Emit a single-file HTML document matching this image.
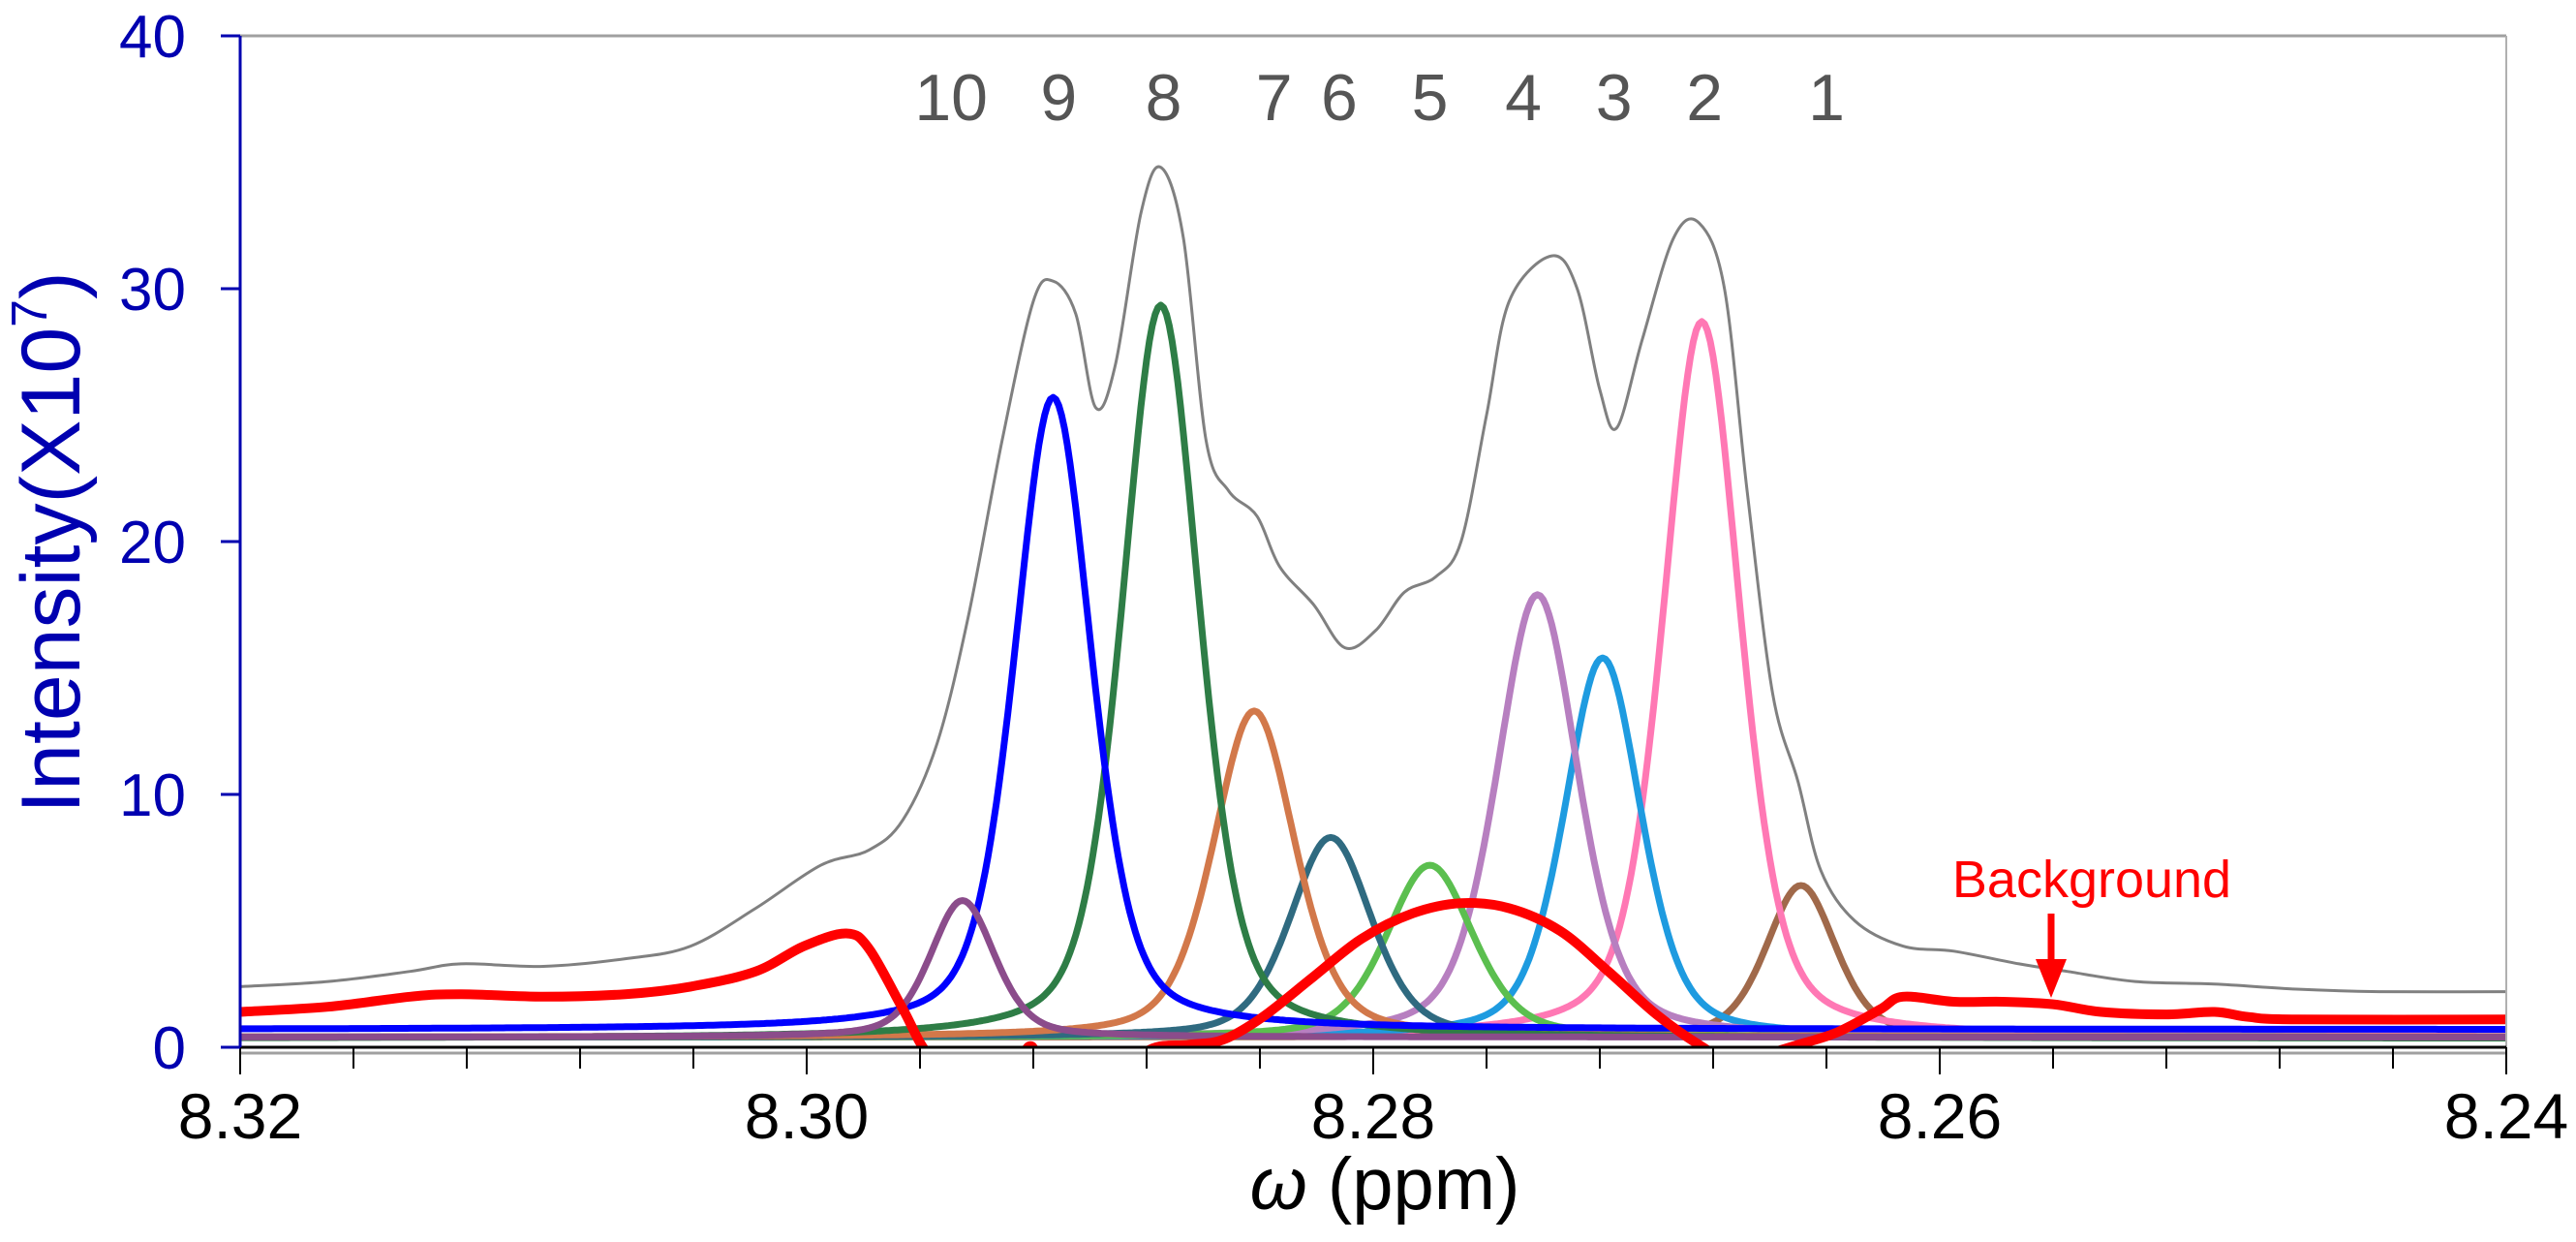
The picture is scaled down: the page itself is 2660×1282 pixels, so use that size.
<!DOCTYPE html>
<html><head><meta charset="utf-8"><style>
html,body{margin:0;padding:0;background:#fff;}
svg{display:block;font-family:"Liberation Sans",Arial,sans-serif;}
</style></head><body>
<svg id="chart" width="2660" height="1282" viewBox="0 0 2660 1282" xmlns="http://www.w3.org/2000/svg">
<defs><clipPath id="plotclip"><rect x="248" y="30" width="2340" height="1051"/></clipPath></defs>
<g id="grid"></g>
<g id="series" clip-path="url(#plotclip)"></g>
<g id="axes"></g>
</svg>
<script>
const peakLabels = ['1','2','3','4','5','6','7','8','9','10'];
const peakCenters = [8.2649, 8.2684, 8.2719, 8.2742, 8.2780, 8.2815, 8.2842, 8.2875, 8.2913, 8.2945];
const peakHeights = [6.0, 28.3, 15.0, 17.5, 6.8, 7.9, 12.9, 29.0, 25.0, 5.4];
const peakWidths = [0.00145, 0.0016, 0.0016, 0.0017, 0.0018, 0.0017, 0.0017, 0.0016, 0.0016, 0.00135];
const peakOffsets = [0.4, 0.4, 0.4, 0.4, 0.4, 0.4, 0.4, 0.35, 0.7, 0.4];
const peakColors = ['#a0694a','#ff78b4','#1e9be0','#b77fc0','#5bbf4f','#2f6a80','#d2784a','#2e7d46','#0000ff','#8b4c8b'];
const labelPpm = [8.2640, 8.2683, 8.2715, 8.2747, 8.2780, 8.2812, 8.2835, 8.2874, 8.2911, 8.2949];

const totalPpm = [8.3200,8.3169,8.3140,8.3122,8.3093,8.3064,8.3041,8.3018,8.2995,8.2978,8.2966,8.2954,8.2943,8.2931,8.2920,8.2913,8.2905,8.2898,8.2891,8.2882,8.2875,8.2867,8.2859,8.2851,8.2841,8.2833,8.2821,8.2810,8.2799,8.2789,8.2778,8.2769,8.2760,8.2752,8.2737,8.2728,8.2720,8.2714,8.2705,8.2694,8.2685,8.2676,8.2668,8.2659,8.2650,8.2642,8.2630,8.2613,8.2595,8.2572,8.2555,8.2531,8.2503,8.2474,8.2445,8.2400];
const totalVals = [2.4,2.6,3.0,3.3,3.2,3.5,4.0,5.5,7.2,7.8,9,12,17,24,29.5,30.3,29,25.3,27,33,34.8,32,24,22,21,19,17.5,15.8,16.5,18,18.6,20,25,29.5,31.3,30,26,24.5,28,32,32.6,30,22,14,10.5,7,5,4.0,3.8,3.3,3.0,2.6,2.5,2.3,2.2,2.2];

const bgPpm = [8.3200,8.3169,8.3140,8.3122,8.3093,8.3064,8.3041,8.3018,8.3001,8.2986,8.2978,8.2966,8.2957,8.2943,8.2925,8.2921,8.2917,8.2896,8.2879,8.2865,8.2853,8.2839,8.2821,8.2804,8.2786,8.2769,8.2752,8.2734,8.2717,8.2700,8.2685,8.2673,8.2662,8.2650,8.2636,8.2621,8.2613,8.2595,8.2578,8.2560,8.2543,8.2520,8.2503,8.2491,8.2474,8.2400];
const bgVals = [1.4,1.6,2.0,2.1,2.0,2.1,2.4,3.0,4.0,4.5,3.9,1.5,-0.3,-1.5,-0.3,0.05,-0.3,-1.5,-0.1,0.1,0.3,1.2,2.8,4.3,5.3,5.7,5.5,4.6,3.0,1.3,0.1,-0.6,-0.3,0.1,0.6,1.5,2.0,1.8,1.8,1.7,1.4,1.3,1.4,1.2,1.1,1.1];

const xTicks = [8.32, 8.30, 8.28, 8.26, 8.24];
const xTickLabels = ['8.32','8.30','8.28','8.26','8.24'];
const yTicks = [0, 10, 20, 30, 40];

const X0=248, X1=2588, Y0=1081, Y1=37;
function xs(p){ return X0 + (8.32 - p) / 0.08 * (X1 - X0); }
function ys(v){ return Y0 - v / 40 * (Y0 - Y1); }
const NS='http://www.w3.org/2000/svg';
function mk(tag, attrs, parent){ const e=document.createElementNS(NS,tag); for(const k in attrs) e.setAttribute(k,attrs[k]); parent.appendChild(e); return e; }
function smoothPath(pts){
  let d='M'+pts[0][0].toFixed(1)+','+pts[0][1].toFixed(1);
  for(let i=0;i<pts.length-1;i++){
    const p0=pts[Math.max(0,i-1)],p1=pts[i],p2=pts[i+1],p3=pts[Math.min(pts.length-1,i+2)];
    const c1=[p1[0]+(p2[0]-p0[0])/6,p1[1]+(p2[1]-p0[1])/6];
    const c2=[p2[0]-(p3[0]-p1[0])/6,p2[1]-(p3[1]-p1[1])/6];
    d+='C'+c1[0].toFixed(1)+','+c1[1].toFixed(1)+' '+c2[0].toFixed(1)+','+c2[1].toFixed(1)+' '+p2[0].toFixed(1)+','+p2[1].toFixed(1);
  }
  return d;
}
const series=document.getElementById('series');
const axes=document.getElementById('axes');

let e;
e=mk('line',{x1:X0,y1:Y1,x2:X1,y2:Y1,stroke:'#a0a0a0','stroke-width':3},axes);
 
e=mk('line',{x1:X1,y1:Y1,x2:X1,y2:Y0,stroke:'#b0b0b0','stroke-width':2},axes);
 

peakCenters.forEach((c,i)=>{
  const pts=[];
  for(let p=8.32;p>=8.24-1e-9;p-=0.0001){
    const t=(p-c)/peakWidths[i];
    const v=peakOffsets[i]+peakHeights[i]*(0.6*Math.exp(-Math.LN2*t*t)+0.4/(1+t*t));
    pts.push([xs(p),ys(v)]);
  }
  const d='M'+pts.map(q=>q[0].toFixed(1)+','+q[1].toFixed(1)).join('L');
  const el=mk('path',{d:d,fill:'none',stroke:peakColors[i],'stroke-width':7,'stroke-linejoin':'round'},series);
  
  
});
e=mk('path',{d:smoothPath(bgPpm.map((p,i)=>[xs(p),ys(bgVals[i])])),fill:'none',stroke:'#ff0000','stroke-width':10,'stroke-linejoin':'round'},series);
 
e=mk('path',{d:smoothPath(totalPpm.map((p,i)=>[xs(p),ys(totalVals[i])])),fill:'none',stroke:'#808080','stroke-width':3},series);
 

e=mk('line',{x1:X0,y1:Y0,x2:X1,y2:Y0,stroke:'#000','stroke-width':3},axes);
 
e=mk('line',{x1:X0,y1:Y0+6,x2:X1,y2:Y0+6,stroke:'#a0a0a0','stroke-width':3},axes);
 
for(let k=0;k<=20;k++){
  const p=8.32-k*0.004;
  e=mk('line',{x1:xs(p),y1:Y0,x2:xs(p),y2:Y0+(k%5===0?28:22),stroke:'#000','stroke-width':2},axes);
   
}
xTicks.forEach((p,i)=>{
  const t=mk('text',{x:xs(p),y:1175,'text-anchor':'middle','font-size':66,fill:'#000'},axes);
  t.textContent=xTickLabels[i];
   
});
e=mk('text',{x:1430,y:1248,'text-anchor':'middle','font-size':76,fill:'#000'},axes);
e.innerHTML='<tspan font-style="italic">ω</tspan> (ppm)';
 

e=mk('line',{x1:X0,y1:Y1,x2:X0,y2:Y0,stroke:'#0000b0','stroke-width':3},axes);
 
yTicks.forEach(v=>{
  e=mk('line',{x1:X0-20,y1:ys(v),x2:X0,y2:ys(v),stroke:'#0000b0','stroke-width':3},axes);
   
  const t=mk('text',{x:192,y:ys(v)+22,'text-anchor':'end','font-size':62,fill:'#0000b0'},axes);
  t.textContent=String(v);
   
});
e=mk('text',{x:0,y:0,transform:'translate(82,560) rotate(-90)','text-anchor':'middle','font-size':86,fill:'#0000b0'},axes);
e.innerHTML='Intensity(X10<tspan font-size="52" dy="-34">7</tspan><tspan dy="34">)</tspan>';
 

labelPpm.forEach((p,i)=>{
  const t=mk('text',{x:xs(p),y:124,'text-anchor':'middle','font-size':68,fill:'#555'},axes);
  t.textContent=peakLabels[i];
   
});

e=mk('text',{x:2160,y:926,'text-anchor':'middle','font-size':54,fill:'#ff0000'},axes);
e.textContent='Background';
 
e=mk('line',{x1:2118,y1:943,x2:2118,y2:1000,stroke:'#ff0000','stroke-width':7},axes);
 
e=mk('polygon',{points:'2102,990 2134,990 2118,1030',fill:'#ff0000'},axes);
 
</script>
</body></html>
